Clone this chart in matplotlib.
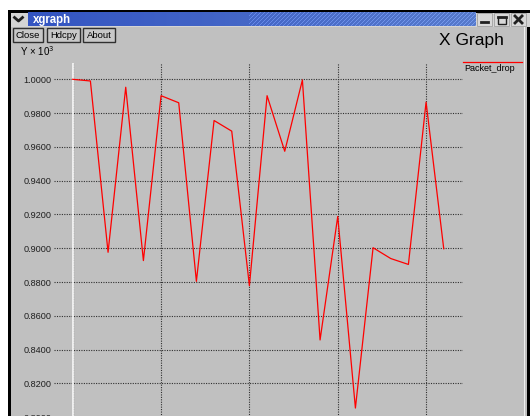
import numpy as np
import matplotlib
matplotlib.use("Agg")
import matplotlib.pyplot as plt
from matplotlib.patches import Rectangle

# data (values shown as Y x 10^3)
step = list(range(22))
packet_drop = [1.0000, 0.9990, 0.8976, 0.9953, 0.8927, 0.9903, 0.9861, 0.8804,
               0.9756, 0.9693, 0.8778, 0.9903, 0.9574, 0.9996, 0.8457, 0.9188,
               0.8054, 0.9003, 0.8939, 0.8904, 0.9865, 0.8997]
y_ticks = [0.80, 0.82, 0.84, 0.86, 0.88, 0.90, 0.92, 0.94, 0.96, 0.98, 1.00]
x_ticks = [0, 5, 10, 15, 20]
buttons = ["Close", "Hdcpy", "About"]

W, H = 530, 416
BG = "#c0c0c0"
FONT = "Liberation Sans"

fig = plt.figure(figsize=(W / 100, H / 100), dpi=100, facecolor=BG)

# overlay in pixel coords for the window decoration
ov = fig.add_axes([0, 0, 1, 1], zorder=0)
ov.set_xlim(0, W)
ov.set_ylim(H, 0)
ov.axis("off")

# white outside the window, black frame
ov.add_patch(Rectangle((0, 0), W, 10, color="white", lw=0))
ov.add_patch(Rectangle((0, 0), 7.5, H, color="white", lw=0))
ov.add_patch(Rectangle((7.5, 10), 3, H, color="black", lw=0))
ov.add_patch(Rectangle((7.5, 10), W, 2.5, color="black", lw=0))
ov.add_patch(Rectangle((527, 10), 3, H, color="black", lw=0))
ov.add_patch(Rectangle((523.5, 27), 1.5, H, color="#f0f0f0", lw=0))

# title bar
ov.add_patch(Rectangle((10.5, 12.5), W, 14, color="#d4d4d4", lw=0))
xx, yy = np.meshgrid(np.arange(448), np.arange(14))
shade = xx / 447.0
stripes = ((xx + yy) % 4 == 0) & (xx > 220)
img = np.zeros((14, 448, 3))
c1 = np.array([0.20, 0.33, 0.76])
c2 = np.array([0.34, 0.48, 0.80])
img[:] = c1 + (c2 - c1) * shade[..., None]
img[stripes] = np.minimum(img[stripes] + 0.13, 1)
ov.imshow(img, extent=[28, 476, 26.5, 12.5], aspect="auto", zorder=1)
ov.plot([14.5, 18.5, 22.5], [17.5, 21, 17.5], color="#202020", lw=2, zorder=2)
ov.text(33, 19.5, "xgraph", ha="left", va="center", fontsize=8.3,
        fontweight="bold", color="white", family=FONT, zorder=2)

# min / max / close boxes
for bx in (477, 494, 511):
    ov.add_patch(Rectangle((bx, 13), 15, 13, facecolor="#d8d8d8",
                           edgecolor="#a0a0a0", lw=0.6, zorder=2))
ov.plot([481, 488], [22, 22], color="#202020", lw=2, zorder=3)
ov.add_patch(Rectangle((498, 16.5), 8, 7, facecolor="none",
                       edgecolor="#202020", lw=1, zorder=3))
ov.plot([498, 506], [17, 17], color="#202020", lw=2, zorder=3)
ov.plot([515, 522], [16, 23], color="#202020", lw=2, zorder=3)
ov.plot([515, 522], [23, 16], color="#202020", lw=2, zorder=3)

# buttons
bx_pos = [(13, 30), (47, 33), (83, 32)]
for name, (bx, bw) in zip(buttons, bx_pos):
    ov.add_patch(Rectangle((bx, 27.5), bw, 14, facecolor="#c8c8c8",
                           edgecolor="#303030", lw=1.0, zorder=2))
    ov.text(bx + bw / 2, 35, name, ha="center", va="center", fontsize=6.8,
            family=FONT, color="black", zorder=3)

ov.text(20, 51, "Y \u00d7 10$^{3}$", ha="left", va="center", fontsize=7,
        family=FONT, color="black")
ov.text(439, 40, "X Graph", ha="left", va="center", fontsize=12.5,
        family=FONT, color="black")

# legend
ov.plot([463, 522], [62.3, 62.3], color="red", lw=0.9)
ov.text(464, 68.5, "Packet_drop", ha="left", va="center", fontsize=6.5,
        family=FONT, color="black")

# plot area: extends below the visible screenshot
px_l, px_r, px_t, px_b = 54, 463, 63.3, 430
ax = fig.add_axes([px_l / W, 1 - px_b / H, (px_r - px_l) / W, (px_b - px_t) / H],
                  zorder=1)
ax.set_facecolor("none")
ax.set_xlim(-1.06, 22.09)
ax.set_ylim(0.7924, 1.00947)
for s in ax.spines.values():
    s.set_visible(False)

ax.set_yticks(y_ticks)
ax.set_yticklabels([f"{v:.4f}" for v in y_ticks])
ax.set_xticks(x_ticks)
ax.tick_params(length=0, pad=2, labelsize=6.6, labelcolor="#202020",
               labelbottom=False)
for lab in ax.get_yticklabels():
    lab.set_family(FONT)
ax.grid(True, color="#303030", linestyle=(0, (1, 1.2)), lw=0.8)
ax.axvline(0, color="#f4f4f4", lw=1.3, zorder=2)

ax.plot(step, packet_drop, color="red", lw=0.9, zorder=3)

fig.savefig("out.png", dpi=100, facecolor=BG)
